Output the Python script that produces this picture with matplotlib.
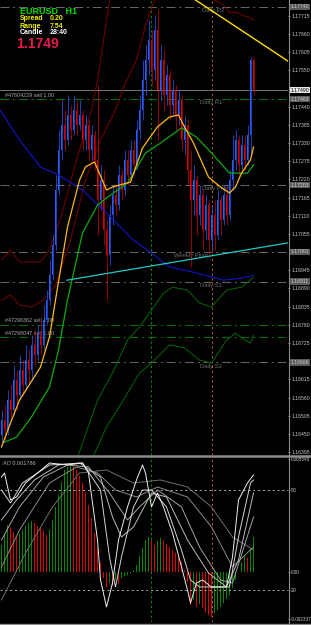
import matplotlib
matplotlib.use("Agg")
import matplotlib.pyplot as plt
import matplotlib.transforms as mtransforms
from matplotlib.lines import Line2D

plt.rcParams['font.family'] = ['Liberation Sans', 'DejaVu Sans']

# EURUSD H1 candles (bar index 0..84)
opens = [1.16446, 1.16492, 1.16462, 1.16552, 1.16522, 1.16613, 1.16567, 1.16643, 1.16598, 1.16673,
         1.16643, 1.16719, 1.16688, 1.16749, 1.16719, 1.16794, 1.16855, 1.16930, 1.17021, 1.17188,
         1.17309, 1.17385, 1.17339, 1.17415, 1.17370, 1.17430, 1.17385, 1.17415, 1.17339, 1.17385,
         1.17309, 1.17354, 1.17279, 1.17158, 1.17218, 1.17067, 1.16991, 1.17112, 1.17173, 1.17142,
         1.17233, 1.17188, 1.17279, 1.17233, 1.17309, 1.17264, 1.17370, 1.17430, 1.17521, 1.17581,
         1.17642, 1.17551, 1.17672, 1.17491, 1.17581, 1.17475, 1.17536, 1.17445, 1.17491, 1.17415,
         1.17460, 1.17339, 1.17385, 1.17248, 1.17158, 1.17218, 1.17112, 1.17173, 1.17067, 1.17142,
         1.17036, 1.17112, 1.17052, 1.17158, 1.17097, 1.17173, 1.17112, 1.17218, 1.17279, 1.17339,
         1.17264, 1.17324, 1.17279, 1.17354, 1.17581]
highs = [1.16522, 1.16537, 1.16583, 1.16598, 1.16658, 1.16643, 1.16688, 1.16673, 1.16719, 1.16704,
         1.16749, 1.16764, 1.16779, 1.16794, 1.16840, 1.16885, 1.16976, 1.17052, 1.17233, 1.17370,
         1.17460, 1.17430, 1.17475, 1.17445, 1.17475, 1.17460, 1.17460, 1.17430, 1.17415, 1.17400,
         1.17385, 1.17370, 1.17506, 1.17264, 1.17248, 1.17097, 1.17142, 1.17203, 1.17203, 1.17264,
         1.17248, 1.17309, 1.17309, 1.17339, 1.17339, 1.17400, 1.17475, 1.17581, 1.17627, 1.17702,
         1.17672, 1.17718, 1.17733, 1.17627, 1.17612, 1.17566, 1.17551, 1.17521, 1.17506, 1.17491,
         1.17475, 1.17415, 1.17400, 1.17309, 1.17264, 1.17233, 1.17203, 1.17188, 1.17173, 1.17158,
         1.17142, 1.17158, 1.17188, 1.17173, 1.17203, 1.17203, 1.17248, 1.17354, 1.17370, 1.17354,
         1.17354, 1.17354, 1.17385, 1.17590, 1.17590]
lows = [1.16416, 1.16431, 1.16446, 1.16492, 1.16507, 1.16522, 1.16552, 1.16567, 1.16583, 1.16598,
        1.16613, 1.16658, 1.16673, 1.16688, 1.16704, 1.16779, 1.16840, 1.16915, 1.17006, 1.17173,
        1.17279, 1.17309, 1.17324, 1.17339, 1.17354, 1.17354, 1.17370, 1.17309, 1.17309, 1.17279,
        1.17279, 1.17248, 1.17052, 1.17127, 1.17021, 1.16855, 1.16961, 1.17082, 1.17112, 1.17127,
        1.17158, 1.17173, 1.17203, 1.17218, 1.17233, 1.17248, 1.17339, 1.17400, 1.17475, 1.17536,
        1.17506, 1.17521, 1.17339, 1.17460, 1.17430, 1.17445, 1.17400, 1.17415, 1.17370, 1.17385,
        1.17309, 1.17294, 1.17203, 1.16955, 1.17112, 1.17052, 1.17082, 1.17006, 1.17036, 1.16991,
        1.17006, 1.17006, 1.17036, 1.17052, 1.17082, 1.17082, 1.17097, 1.17188, 1.17248, 1.17233,
        1.17248, 1.17248, 1.17264, 1.17294, 1.17475]
closes = [1.16492, 1.16462, 1.16552, 1.16522, 1.16613, 1.16567, 1.16643, 1.16598, 1.16673, 1.16643,
          1.16719, 1.16688, 1.16749, 1.16719, 1.16794, 1.16855, 1.16930, 1.17021, 1.17188, 1.17309,
          1.17385, 1.17339, 1.17415, 1.17370, 1.17430, 1.17385, 1.17415, 1.17339, 1.17385, 1.17309,
          1.17354, 1.17279, 1.17158, 1.17218, 1.17067, 1.16991, 1.17112, 1.17173, 1.17142, 1.17233,
          1.17188, 1.17279, 1.17233, 1.17309, 1.17264, 1.17370, 1.17430, 1.17521, 1.17581, 1.17642,
          1.17551, 1.17672, 1.17491, 1.17581, 1.17475, 1.17536, 1.17445, 1.17491, 1.17415, 1.17460,
          1.17339, 1.17385, 1.17248, 1.17158, 1.17218, 1.17112, 1.17173, 1.17067, 1.17142, 1.17036,
          1.17112, 1.17052, 1.17158, 1.17097, 1.17173, 1.17112, 1.17218, 1.17279, 1.17339, 1.17264,
          1.17324, 1.17279, 1.17354, 1.17581, 1.17491]

# moving averages / bands (bar index, price)
yel_x = [0, 3, 6, 13, 16, 18, 22, 26, 28, 31, 35, 37, 43, 47, 52, 56, 59, 61, 64, 69, 73, 76, 78, 80, 83, 84]
yel_y = [1.16410, 1.16483, 1.16552, 1.16652, 1.16743, 1.16855, 1.17076, 1.17218, 1.17258, 1.17273,
         1.17188, 1.17197, 1.17212, 1.17315, 1.17379, 1.17409, 1.17415, 1.17379, 1.17330, 1.17227,
         1.17197, 1.17179, 1.17197, 1.17239, 1.17279, 1.17318]
grn_x = [1, 5, 10, 16, 19, 22, 27, 32, 35, 42, 48, 53, 60, 65, 70, 76, 82, 84]
grn_y = [1.16425, 1.16440, 1.16501, 1.16592, 1.16704, 1.16855, 1.17058, 1.17142, 1.17164, 1.17209,
         1.17300, 1.17330, 1.17376, 1.17348, 1.17300, 1.17239, 1.17239, 1.17264]
blu_x = [-0.5, 6, 13, 19, 27, 35, 44, 50, 56, 65, 74, 80, 84]
blu_y = [1.17430, 1.17339, 1.17258, 1.17233, 1.17188, 1.17118, 1.17036, 1.16997, 1.16955, 1.16937,
         1.16915, 1.16921, 1.16930]
r1_x = [0, 3, 6, 13, 16, 20, 25, 30, 32, 34, 36, 37]
r1_y = [1.16976, 1.17006, 1.16970, 1.16970, 1.17006, 1.17112, 1.17279, 1.17430, 1.17521, 1.17642,
        1.17763, 1.17808]
r2_x = [0, 3, 6, 10, 14, 18, 23, 28, 33, 38, 41, 45, 48, 51, 52]
r2_y = [1.16855, 1.16870, 1.16840, 1.16834, 1.16855, 1.16900, 1.17036, 1.17218, 1.17339, 1.17430,
        1.17506, 1.17581, 1.17687, 1.17763, 1.17808]
r3_x = [68, 71, 74, 76, 78, 80, 83, 84]
r3_y = [1.17793, 1.17763, 1.17748, 1.17724, 1.17727, 1.17718, 1.17709, 1.17702]
g1_x = [25, 32, 37, 42, 46, 50, 54, 57, 62, 66, 70, 75, 80, 84]
g1_y = [1.16370, 1.16552, 1.16634, 1.16734, 1.16773, 1.16825, 1.16876, 1.16894, 1.16885, 1.16846,
        1.16834, 1.16885, 1.16894, 1.16924]
g2_x = [30, 35, 40, 46, 50, 56, 61, 66, 70, 75, 78, 80, 83, 84]
g2_y = [1.16370, 1.16471, 1.16543, 1.16634, 1.16664, 1.16719, 1.16710, 1.16673, 1.16664, 1.16734,
        1.16755, 1.16740, 1.16725, 1.16749]

# trend lines
cyan_x = [21.8, 95.5]
cyan_y = [1.16915, 1.17028]
ytrend_x = [63, 95.5]
ytrend_y = [1.17773, 1.17578]

# pivot levels and orders
level_prices = [1.17742, 1.17463, 1.17203, 1.17001, 1.16911, 1.16666]
level_names = ['Daily R2', 'Daily R1', 'Daily Pivot', 'Weekly Pivot', 'Daily S1', 'Daily S2']
level_label_x = [67, 66, 67, 57.5, 66, 66]
order_prices = [1.17463, 1.16780, 1.16743]
order_labels = ['#47604229 sell 1.00', '#47298362 sell 1.00', '#47298047 sell 1.00']
bid = 1.17490

price_ticks = [1.17715, 1.17660, 1.17605, 1.17550, 1.17440, 1.17385, 1.17330, 1.17275, 1.17220,
               1.17165, 1.17110, 1.17055, 1.16945, 1.16890, 1.16835, 1.16780, 1.16725, 1.16615,
               1.16560, 1.16505, 1.16450, 1.16395]

# Awesome oscillator
ao = [0.00131, 0.00180, 0.00229, 0.00219, 0.00195, 0.00175, 0.00185, 0.00205, 0.00224, 0.00239,
      0.00249, 0.00239, 0.00224, 0.00214, 0.00200, 0.00180, 0.00205, 0.00254, 0.00318, 0.00377,
      0.00441, 0.00500, 0.00515, 0.00525, 0.00520, 0.00500, 0.00471, 0.00436, 0.00392, 0.00328,
      0.00264, 0.00190, 0.00116, 0.00047, -0.00032, -0.00076, -0.00057, -0.00071, -0.00042, -0.00062,
      -0.00032, -0.00022, -0.00017, -0.00007, 0.00007, 0.00032, 0.00076, 0.00116, 0.00155, 0.00170,
      0.00155, 0.00131, 0.00150, 0.00165, 0.00155, 0.00136, 0.00121, 0.00106, 0.00091, 0.00076,
      0.00047, 0.00007, -0.00052, -0.00165, -0.00141, -0.00175, -0.00160, -0.00180, -0.00200, -0.00214,
      -0.00224, -0.00205, -0.00190, -0.00175, -0.00155, -0.00136, -0.00116, -0.00081, -0.00042, -0.00002,
      0.00047, 0.00081, 0.00067, 0.00116, 0.00170]

# stochastic-style white lines (bar index, 0..100)
w1_x = [0, 1, 3, 5, 8, 12, 16, 22, 27, 29, 32, 33, 35, 37, 39, 42, 45, 47, 48, 50, 52, 54, 57, 60, 62,
        63, 65, 67, 70, 75, 77, 79, 82, 84]
w1_v = [87.8, 90.2, 74.0, 75.8, 84.2, 90.2, 96.2, 95.0, 96.2, 90.2, 50.0, 26.0, 9.8, 24.2, 50.0, 69.8,
        86.0, 95.0, 90.2, 69.8, 78.2, 69.8, 54.2, 33.8, 20.0, 12.2, 24.2, 26.0, 21.8, 21.8, 39.8, 74.0,
        84.2, 89.0]
w2_x = [0, 3, 7, 16, 27, 33, 36, 38, 40, 44, 47, 50, 55, 60, 63, 66, 72, 76, 79, 83, 84]
w2_v = [80.0, 72.2, 84.2, 95.0, 96.2, 80.0, 39.8, 21.8, 39.8, 69.8, 80.0, 80.0, 69.8, 44.0, 26.0, 21.8,
        21.8, 21.8, 51.8, 84.2, 86.0]
w3_x = [0, 5, 11, 19, 26, 33, 37, 40, 44, 50, 55, 62, 69, 75, 79, 84]
w3_v = [62.0, 74.0, 86.0, 95.0, 96.2, 87.8, 63.8, 51.8, 57.8, 78.2, 75.8, 50.0, 30.2, 21.8, 38.0, 78.2]
w4_x = [0, 6, 14, 22, 29, 36, 42, 46, 52, 60, 66, 73, 77, 84]
w4_v = [50.0, 69.8, 87.8, 95.0, 93.8, 78.2, 62.0, 69.8, 80.0, 69.8, 45.8, 26.0, 24.2, 63.8]
w5_x = [0, 6, 16, 25, 32, 38, 45, 52, 62, 70, 77, 84]
w5_v = [33.8, 56.0, 84.2, 93.8, 90.2, 80.0, 75.8, 81.8, 75.8, 57.8, 33.8, 45.8]
w6_x = [0, 8, 17, 26, 35, 44, 53, 62, 70, 77, 84]
w6_v = [14.0, 42.2, 69.8, 90.2, 92.0, 84.2, 86.0, 81.8, 69.8, 51.8, 44.0]

sep_green_x = 49.7
sep_orange_x = 70.2

W, H = 311.0, 625.0
fig = plt.figure(figsize=(3.11, 6.25), dpi=100, facecolor='black')
ax = fig.add_axes([0, 1 - 455 / H, 288 / W, 455 / H], facecolor='black')
ao_ax = fig.add_axes([0, 1 - 622 / H, 288 / W, 165 / H], facecolor='black')
st_ax = ao_ax.twinx()

for a in (ax, ao_ax, st_ax):
    for s in a.spines.values():
        s.set_visible(False)
    a.set_xlim(-0.5, 95.5)
    a.set_xticks([])
    a.tick_params(axis='y', colors='#c8c8c8', labelsize=3.7, length=1.5, width=0.5, pad=0.8,
                  left=False, labelleft=False, right=True, labelright=True)

ax.set_ylim(1.16386, 1.17763)
ao_ax.set_ylim(-0.002485, 0.005647)
st_ax.set_ylim(0.78, 99.8)

dashdot = (0, (9, 4, 2, 4))
dotted = (0, (2, 3))

# levels
for p in level_prices:
    ax.axhline(p, color='#6a6a6a', lw=0.7, linestyle=dashdot, zorder=1)
for p in order_prices:
    ax.axhline(p, color='#007800', lw=0.7, linestyle=dashdot, zorder=1)
ax.axhline(bid, color='#8a8a8a', lw=0.6, zorder=1)
for p, name, lx in zip(level_prices, level_names, level_label_x):
    ax.text(lx, p - 0.00004, name, color='#6e6e6e', fontsize=4.2, va='top', ha='left', zorder=2)
for p, lab in zip(order_prices, order_labels):
    ax.text(1.2, p + 0.00004, lab, color='#a8a8a8', fontsize=3.9, va='bottom', ha='left', zorder=2)

# vertical separators
for a in (ax, ao_ax):
    a.axvline(sep_green_x, color='#00a000', lw=0.7, linestyle=dotted, zorder=1)
    a.axvline(sep_orange_x, color='#d06a20', lw=0.7, linestyle=dotted, zorder=1)

# bands
for xs, ys in ((r1_x, r1_y), (r2_x, r2_y), (r3_x, r3_y)):
    ax.plot(xs, ys, color='#7a0000', lw=0.7, zorder=2)
for xs, ys in ((g1_x, g1_y), (g2_x, g2_y)):
    ax.plot(xs, ys, color='#006800', lw=0.7, zorder=2)

# candles
for i in range(len(closes)):
    col = '#2b5cff' if closes[i] >= opens[i] else '#d00000'
    ax.vlines(i, lows[i], highs[i], color=col, lw=0.5, zorder=3)
    body = max(abs(closes[i] - opens[i]), 0.00002)
    ax.bar(i, body, bottom=min(opens[i], closes[i]), width=0.45, color=col, linewidth=0, zorder=3)

ax.plot(blu_x, blu_y, color='#1414c8', lw=0.8, zorder=4)
ax.plot(grn_x, grn_y, color='#10a810', lw=0.9, zorder=4)
ax.plot(yel_x, yel_y, color='#ffb81c', lw=0.9, zorder=5)
ax.plot(cyan_x, cyan_y, color='#20c8c8', lw=0.9, zorder=5)
ax.plot(ytrend_x, ytrend_y, color='#ffe000', lw=1.0, zorder=5)

# price axis
ax.set_yticks(price_ticks)
ax.set_yticklabels([f'{p:.5f}' for p in price_ticks])
trans = mtransforms.blended_transform_factory(ax.transAxes, ax.transData)
boxes = [(1.17742, '#5a5a5a', '#d0d0d0'), (bid, '#e8e8e8', '#000000'),
         (1.17463, '#5a5a5a', '#d0d0d0'), (1.17203, '#5a5a5a', '#d0d0d0'),
         (1.17001, '#5a5a5a', '#d0d0d0'), (1.16911, '#5a5a5a', '#d0d0d0'),
         (1.16666, '#5a5a5a', '#d0d0d0')]
for p, fc, tc in boxes:
    ax.text(1.01, p, f'{p:.5f}', transform=trans, color=tc, fontsize=3.7, va='center', ha='left',
            clip_on=False, zorder=6,
            bbox=dict(boxstyle='square,pad=0.15', fc=fc, ec='none'))

# AO histogram
ao_cols = ['#008a00' if i == 0 or ao[i] >= ao[i - 1] else '#e00000' for i in range(len(ao))]
ao_ax.bar(range(len(ao)), ao, width=0.45, color=ao_cols, linewidth=0, zorder=2)
ao_ax.set_yticks([0.005548, 0.0, -0.002337])
ao_ax.set_yticklabels(['0.005548', '0.00', '-0.002337'])
ao_ax.tick_params(axis='y', labelsize=3.3)
ao_ax.text(0.012, 0.975, 'AO 0.001786', transform=ao_ax.transAxes, color='#b0b0b0', fontsize=4.0,
           va='top', ha='left')

# white lines
st_ax.axhline(80, color='#b0b0b0', lw=0.7, linestyle=dotted)
st_ax.axhline(20, color='#b0b0b0', lw=0.7, linestyle=dotted)
wl = [(w6_x, w6_v, '#6e6e6e'), (w5_x, w5_v, '#8a8a8a'), (w4_x, w4_v, '#a4a4a4'),
      (w3_x, w3_v, '#bcbcbc'), (w2_x, w2_v, '#d4d4d4'), (w1_x, w1_v, '#eeeeee')]
for xs, vs, c in wl:
    st_ax.plot(xs, vs, color=c, lw=0.7)
st_ax.set_yticks([80, 20])
st_ax.set_yticklabels(['80', '20'])

# frame lines
fig.add_artist(Line2D([0, 1], [1 - 456 / H] * 2, transform=fig.transFigure, color='#8c8c8c', lw=1.8))
fig.add_artist(Line2D([0, 1], [1 - 623.5 / H] * 2, transform=fig.transFigure, color='#8c8c8c', lw=1.0))
fig.add_artist(Line2D([288.5 / W] * 2, [1 - 623.5 / H, 1], transform=fig.transFigure, color='#8c8c8c', lw=0.8))

# header info
fig.text(20 / W, 1 - 13.5 / H, 'EURUSD   H1', color='#00e000', fontsize=6.5, weight='bold')
fig.text(20 / W, 1 - 20.5 / H, 'Spread', color='#f0f000', fontsize=5, weight='bold')
fig.text(50 / W, 1 - 20.5 / H, '0.20', color='#f0f000', fontsize=5, weight='bold')
fig.text(20 / W, 1 - 27.5 / H, 'Range', color='#f0f000', fontsize=5, weight='bold')
fig.text(50 / W, 1 - 27.5 / H, '7.54', color='#f0f000', fontsize=5, weight='bold')
fig.text(20 / W, 1 - 34.5 / H, 'Candle', color='#ffffff', fontsize=5, weight='bold')
fig.text(50 / W, 1 - 34.5 / H, '28:40', color='#ffffff', fontsize=5, weight='bold')
fig.text(16 / W, 1 - 48 / H, '1.1749', color='#e8194b', fontsize=10, weight='bold')

fig.savefig('out.png', dpi=100, facecolor='black')
